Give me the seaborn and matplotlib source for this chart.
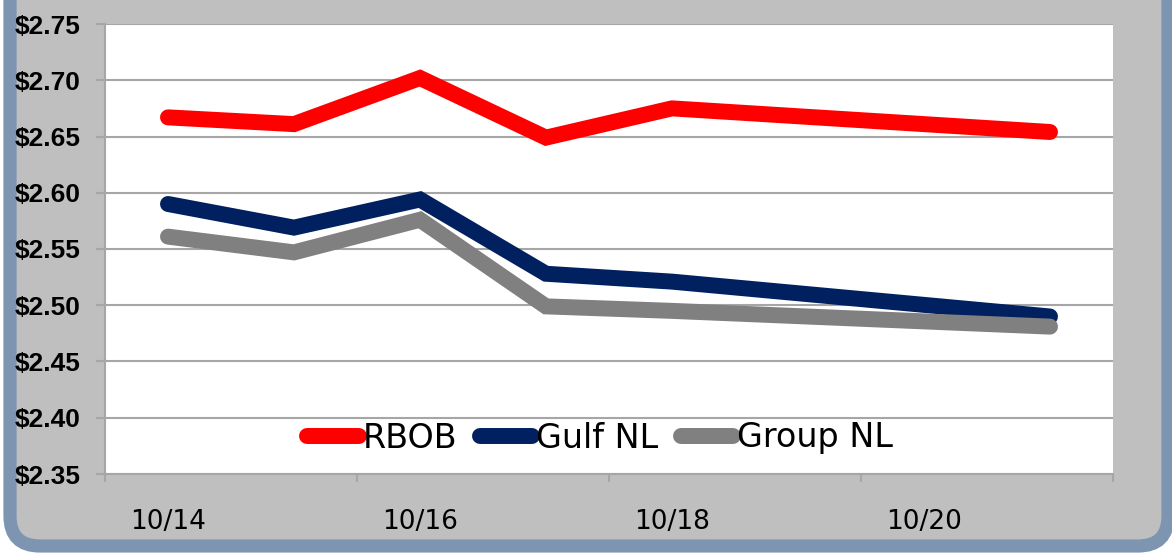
import numpy as np
import pandas as pd
import matplotlib
matplotlib.use("Agg")
import matplotlib.pyplot as plt
import seaborn as sns
from matplotlib.patches import FancyBboxPatch
from matplotlib.lines import Line2D
from matplotlib.ticker import FixedLocator, FuncFormatter, NullFormatter

# ---- data ----
days = [14, 15, 16, 17, 18, 21]            # October days
rbob = [2.667, 2.661, 2.702, 2.649, 2.675, 2.654]
gulf_nl = [2.590, 2.569, 2.594, 2.528, 2.521, 2.490]
group_nl = [2.561, 2.547, 2.576, 2.499, 2.495, 2.481]
series = ["RBOB", "Gulf NL", "Group NL"]
colors = ["#FF0000", "#002060", "#808080"]
x_label_days = [14, 16, 18, 20]
x_labels = ["10/14", "10/16", "10/18", "10/20"]
y_ticks = [2.35, 2.40, 2.45, 2.50, 2.55, 2.60, 2.65, 2.70, 2.75]

df = pd.DataFrame({
    "day": days * 3,
    "price": rbob + gulf_nl + group_nl,
    "series": [s for s in series for _ in days],
})

sns.set_theme(style="white")
plt.rcParams["font.family"] = ["DejaVu Sans"]
plt.rcParams["text.color"] = "black"

W, H = 1172, 555
fig = plt.figure(figsize=(W / 100, H / 100), dpi=100)
fig.patch.set_facecolor("white")

# rounded grey panel with blue-grey border
border = FancyBboxPatch((0.10, 0.09), 11.58, 6.0,
                        boxstyle="round,pad=0,rounding_size=0.3",
                        transform=fig.dpi_scale_trans,
                        facecolor="#BFBFBF", edgecolor="#7D95B1",
                        linewidth=9.5, zorder=-5)
fig.patches.append(border)

ax = fig.add_axes([105 / W, 1 - 474 / H, 1008 / W, 450 / H])
ax.set_zorder(1)
ax.set_facecolor("white")

sns.lineplot(data=df, x="day", y="price", hue="series", hue_order=series,
             palette=colors, linewidth=11.5, ax=ax, legend=False,
             solid_capstyle="round", solid_joinstyle="miter")

ax.set_xlim(13.5, 21.5)
ax.set_ylim(2.35, 2.75)
ax.set_xlabel("")
ax.set_ylabel("")

# y axis
ax.yaxis.set_major_locator(FixedLocator(y_ticks))
ax.yaxis.set_major_formatter(FuncFormatter(lambda v, p: f"${v:.2f}"))
ax.grid(axis="y", color="#A6A6A6", linewidth=1.5)
ax.grid(axis="x", visible=False)
ax.set_axisbelow(True)
ax.tick_params(axis="y", which="major", left=True, length=6.5, width=1.5,
               color="#A6A6A6", pad=11, labelsize=19, labelcolor="black")
for t in ax.get_yticklabels():
    t.set_fontfamily("Liberation Sans")
    t.set_fontweight("bold")

# x axis: tick marks between categories, labels at day centres
ax.xaxis.set_major_locator(FixedLocator([13.5, 15.5, 17.5, 19.5, 21.5]))
ax.xaxis.set_major_formatter(NullFormatter())
ax.xaxis.set_minor_locator(FixedLocator(x_label_days))
ax.xaxis.set_minor_formatter(FuncFormatter(
    lambda v, p: x_labels[x_label_days.index(int(round(v)))] if int(round(v)) in x_label_days else ""))
ax.tick_params(axis="x", which="major", bottom=True, length=6, width=1.5,
               color="#A6A6A6")
ax.tick_params(axis="x", which="minor", bottom=True, length=0, pad=25,
               labelsize=19, labelcolor="black")

for s in ["top", "right"]:
    ax.spines[s].set_visible(False)
for s in ["left", "bottom"]:
    ax.spines[s].set_color("#A6A6A6")
    ax.spines[s].set_linewidth(1.5)

handles = [Line2D([], [], color=c, linewidth=11.5, solid_capstyle="round")
           for c in colors]
leg = ax.legend(handles, series, loc="center", bbox_to_anchor=(0.491, 0.08),
                ncol=3, frameon=False, fontsize=24, handlelength=1.55,
                handletextpad=0.12, columnspacing=0.68)
for t in leg.get_texts():
    t.set_color("black")

fig.savefig("out.png", dpi=100, facecolor=fig.get_facecolor())
